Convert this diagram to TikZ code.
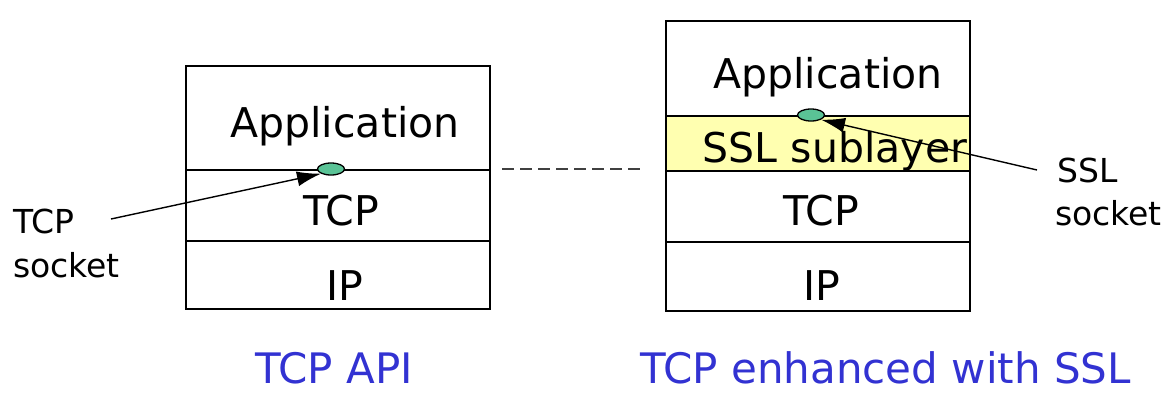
\documentclass[tikz,border=0pt]{standalone}
\usepackage{fontspec}
\setmainfont{DejaVu Sans}
\usetikzlibrary{shapes.geometric,arrows.meta}
\definecolor{sockgreen}{RGB}{90,195,150}
\definecolor{ssly}{RGB}{255,255,176}
\definecolor{lblue}{RGB}{50,50,210}
\begin{document}
\begin{tikzpicture}[x=1pt,y=-1pt,
  layer/.style={draw=black,line width=1.8pt,inner sep=0pt,anchor=north west},
  ltext/.style={font=\fontsize{41}{45}\selectfont,inner sep=0pt,anchor=base},
  side/.style={font=\fontsize{33}{37}\selectfont,inner sep=0pt,anchor=base west},
  captext/.style={font=\fontsize{42}{47}\selectfont,text=lblue,inner sep=0pt,anchor=base west},
  sock/.style={ellipse,draw=black,line width=1.3pt,fill=sockgreen,minimum width=27pt,minimum height=12pt,inner sep=0pt},
  arr/.style={line width=1.4pt,-{Latex[length=24pt,width=15pt]}}]
\useasboundingbox (0,0) rectangle (1176,408);
% left stack
\node[layer,minimum width=304pt,minimum height=104pt] (lapp) at (185,65) {};
\node[layer,minimum width=304pt,minimum height=71pt] (ltcp) at (185,169) {};
\node[layer,minimum width=304pt,minimum height=68pt] (lip) at (185,240) {};
\node[ltext] (lappt) at (345,137) {Application};
\node[ltext] (ltcpt) at (341,225) {TCP};
\node[ltext] (lipt) at (345,300) {IP};
% right stack
\node[layer,minimum width=304pt,minimum height=95pt] (rapp) at (665,20) {};
\node[layer,fill=ssly,minimum width=304pt,minimum height=55pt] (rssl) at (665,115) {};
\node[layer,minimum width=304pt,minimum height=71pt] (rtcp) at (665,170) {};
\node[layer,minimum width=304pt,minimum height=69pt] (rip) at (665,241) {};
\node[ltext] (rappt) at (828,88) {Application};
\node[ltext] (rsslt) at (835,162) {SSL sublayer};
\node[ltext] (rtcpt) at (821,225) {TCP};
\node[ltext] (ript) at (822,300) {IP};
% sockets
\node[sock] (lsock) at (331,169) {};
\node[sock] (rsock) at (811,115) {};
% side labels
\node[side] (tcps1) at (13,233) {TCP};
\node[side] (tcps2) at (13,277) {socket};
\node[side] (ssls1) at (1057,182) {SSL};
\node[side] (ssls2) at (1055,225) {socket};
\coordinate (ta) at (111,219);
\coordinate (sa) at (1037,170);
\draw[arr] (ta) -- (lsock.south west);
\draw[arr] (sa) -- (rsock.south east);
% dashed link
\coordinate (d1) at (502,169);
\coordinate (d2) at (645,169);
\draw[line width=1.3pt,dash pattern=on 12pt off 6pt,draw=black!75] (d1) -- (d2);
% captions
\node[captext] (c1) at (255,383) {TCP API};
\node[captext] (c2) at (640,383) {TCP enhanced with SSL};
\end{tikzpicture}
\end{document}
